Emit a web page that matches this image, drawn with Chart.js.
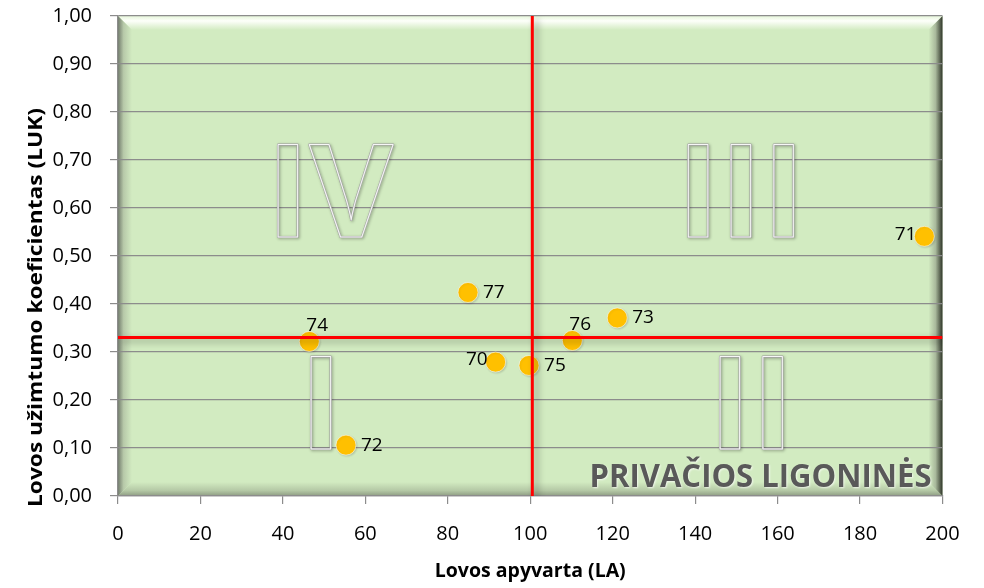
<!DOCTYPE html>
<html>
<head>
<meta charset="utf-8">
<script src="https://cdn.jsdelivr.net/npm/chart.js@4/dist/chart.umd.min.js"></script>
<style>
  body { margin: 0; background: #fff; }
  #wrap { width: 984px; height: 588px; }
</style>
</head>
<body>
<div id="wrap"><canvas id="taskas"></canvas></div>
<script>
// ligoninių numeriai ir rodikliai
const ligonines = ['70', '71', '72', '73', '74', '75', '76', '77'];
const lovosApyvarta = [91.6, 195.6, 55.3, 121.1, 46.4, 99.7, 110.2, 84.9];
const lovosUzimtumas = [0.279, 0.541, 0.106, 0.371, 0.322, 0.272, 0.324, 0.424];

// vidurkiai (raudonos linijos)
const vidLA = 100.5;
const vidLUK = 0.33;

// ketvirčių numeriai
const ketvirciai = ['IV', 'III', 'I', 'II'];
const pavadinimas = 'PRIVAČIOS LIGONINĖS';
const yPavadinimas = 'Lovos užimtumo koeficientas (LUK)';

const zymes = { '70': 'left', '71': 'left', '72': 'right', '73': 'right', '74': 'above', '75': 'right', '76': 'above', '77': 'right' };

function poly(ctx, pts, fill) {
    ctx.beginPath();
    ctx.moveTo(pts[0][0], pts[0][1]);
    for (let i = 1; i < pts.length; i++) ctx.lineTo(pts[i][0], pts[i][1]);
    ctx.closePath();
    ctx.fillStyle = fill;
    ctx.fill();
}

// žalias fonas su nuožulniais kraštais
const fonas = {
    id: 'fonas',
    beforeDraw(chart) {
        const { ctx, chartArea: a } = chart;
        const L = a.left, R = a.right, T = a.top, B = a.bottom, b = 14;
        const base = '#d2ebc1';
        ctx.save();
        ctx.fillStyle = base;
        ctx.fillRect(L, T, R - L, B - T);

        let g = ctx.createLinearGradient(0, T, 0, T + b);
        g.addColorStop(0, '#e6f6da');
        g.addColorStop(0.35, '#fdfffa');
        g.addColorStop(1, base);
        poly(ctx, [[L, T], [R, T], [R - b, T + b], [L + b, T + b]], g);

        g = ctx.createLinearGradient(0, B - b, 0, B);
        g.addColorStop(0, base);
        g.addColorStop(0.6, '#b5c9a6');
        g.addColorStop(1, '#8e9c83');
        poly(ctx, [[L + b, B - b], [R - b, B - b], [R, B], [L, B]], g);

        g = ctx.createLinearGradient(L, 0, L + b, 0);
        g.addColorStop(0, '#737d6d');
        g.addColorStop(0.4, '#b7c9a9');
        g.addColorStop(1, base);
        poly(ctx, [[L, T], [L + b, T + b], [L + b, B - b], [L, B]], g);

        g = ctx.createLinearGradient(R - b, 0, R, 0);
        g.addColorStop(0, base);
        g.addColorStop(0.5, '#a9b99c');
        g.addColorStop(1, '#2f3529');
        poly(ctx, [[R - b, T + b], [R, T], [R, B], [R - b, B - b]], g);

        // y ašies pavadinimas
        ctx.font = 'bold 20px "Open Sans"';
        ctx.fillStyle = '#000';
        ctx.textAlign = 'left';
        ctx.textBaseline = 'middle';
        const tw = ctx.measureText(yPavadinimas).width;
        ctx.translate(36, 507);
        ctx.rotate(-Math.PI / 2);
        ctx.scale(399 / tw, 1);
        ctx.fillText(yPavadinimas, 0, 0);
        ctx.restore();
    },
    beforeDatasetsDraw(chart) {
        const { ctx, scales: { x, y }, chartArea: a } = chart;
        // ketvirčių numeriai: centras x, bazinė linija y (ašių vienetais)
        const vietos = [[51.4, 0.539], [151.1, 0.539], [49.2, 0.098], [153.6, 0.098]];
        ctx.save();
        ctx.font = 'bold 129px "Open Sans"';
        ctx.textAlign = 'center';
        ctx.textBaseline = 'alphabetic';
        ctx.lineJoin = 'round';
        ketvirciai.forEach((t, i) => {
            const px = x.getPixelForValue(vietos[i][0]);
            const py = y.getPixelForValue(vietos[i][1]);
            ctx.shadowColor = 'rgba(0,0,0,0.35)';
            ctx.shadowBlur = 3;
            ctx.shadowOffsetX = 1;
            ctx.shadowOffsetY = 1;
            ctx.strokeStyle = '#a3a3a3';
            ctx.lineWidth = 2.2;
            ctx.strokeText(t, px, py);
            ctx.shadowColor = 'transparent';
            ctx.strokeStyle = '#f6f6f6';
            ctx.lineWidth = 1;
            ctx.strokeText(t, px, py);
        });

        // užrašas apačioje dešinėje
        ctx.font = 'bold 33px "Open Sans"';
        const w = ctx.measureText(pavadinimas).width;
        const k = 342 / w;
        ctx.translate(a.right - 11, a.bottom - 9);
        ctx.scale(k, 1);
        ctx.textAlign = 'right';
        ctx.shadowColor = 'rgba(255,255,255,0.7)';
        ctx.shadowBlur = 2;
        ctx.shadowOffsetX = 1;
        ctx.shadowOffsetY = 1;
        ctx.fillStyle = '#595959';
        ctx.fillText(pavadinimas, 0, 0);
        ctx.restore();
    },
    beforeDatasetDraw(chart, args) {
        const ctx = chart.ctx;
        ctx.save();
        if (args.index < 2) {
            ctx.shadowColor = 'rgba(0,0,0,0.35)';
            ctx.shadowBlur = 7;
            ctx.shadowOffsetX = 4;
            ctx.shadowOffsetY = 3;
        } else {
            ctx.shadowColor = 'rgba(0,0,0,0.15)';
            ctx.shadowBlur = 2;
            ctx.shadowOffsetX = 1;
            ctx.shadowOffsetY = 1;
        }
    },
    afterDatasetDraw(chart) {
        chart.ctx.restore();
    },
    afterDatasetsDraw(chart) {
        const ctx = chart.ctx;
        const meta = chart.getDatasetMeta(2);
        ctx.save();
        ctx.font = '19px "Open Sans"';
        ctx.fillStyle = '#000';
        meta.data.forEach((p, i) => {
            const id = ligonines[i];
            const poz = zymes[id];
            if (poz === 'left') {
                ctx.textAlign = 'right';
                ctx.textBaseline = 'middle';
                ctx.fillText(id, p.x - 8, p.y - 2);
            } else if (poz === 'right') {
                ctx.textAlign = 'left';
                ctx.textBaseline = 'middle';
                ctx.fillText(id, p.x + 15, p.y);
            } else {
                ctx.textAlign = 'left';
                ctx.textBaseline = 'alphabetic';
                ctx.fillText(id, p.x - 3, p.y - 10);
            }
        });
        ctx.restore();
    }
};

const taskai = ligonines.map((id, i) => ({ x: lovosApyvarta[i], y: lovosUzimtumas[i] }));

new Chart('taskas', {
    type: 'scatter',
    data: {
        datasets: [
            {
                type: 'line',
                data: [{ x: vidLA, y: 0 }, { x: vidLA, y: 1 }],
                borderColor: '#ff0000',
                borderWidth: 3,
                pointRadius: 0
            },
            {
                type: 'line',
                data: [{ x: 0, y: vidLUK }, { x: 200, y: vidLUK }],
                borderColor: '#ff0000',
                borderWidth: 3,
                pointRadius: 0
            },
            {
                data: taskai,
                backgroundColor: '#ffc000',
                borderColor: 'rgba(255,255,255,0.55)',
                borderWidth: 1,
                pointRadius: 10
            }
        ]
    },
    options: {
        responsive: true,
        maintainAspectRatio: false,
        animation: false,
        layout: { padding: { top: 16, right: 41.5, left: 0, bottom: 0 } },
        plugins: {
            legend: { display: false },
            tooltip: { enabled: false }
        },
        scales: {
            x: {
                type: 'linear',
                min: 0,
                max: 200,
                ticks: {
                    stepSize: 20,
                    color: '#000',
                    padding: 18,
                    font: { family: 'Open Sans', size: 20 }
                },
                grid: { drawOnChartArea: false, tickLength: 8, color: '#8c8c8c', lineWidth: 1.2 },
                border: { color: '#8c8c8c', width: 1.2 },
                title: {
                    display: true,
                    text: 'Lovos apyvarta (LA)',
                    color: '#000',
                    font: { family: 'Open Sans', size: 19.5, weight: 'bold' },
                    padding: { bottom: 5 }
                },
                afterFit(s) {
                    s.height = 92;
                    s.paddingLeft = 0;
                    s.paddingRight = 0;
                }
            },
            y: {
                min: 0,
                max: 1,
                ticks: {
                    stepSize: 0.1,
                    color: '#000',
                    padding: 18,
                    font: { family: 'Open Sans', size: 20 },
                    callback: v => v.toFixed(2).replace('.', ',')
                },
                grid: { tickLength: 8, color: '#8c8c8c', lineWidth: 1.2 },
                border: { color: '#8c8c8c', width: 1.2 },
                afterFit(s) {
                    s.width = 118;
                    s.paddingTop = 0;
                    s.paddingBottom = 0;
                }
            }
        }
    },
    plugins: [fonas]
});
</script>
</body>
</html>
